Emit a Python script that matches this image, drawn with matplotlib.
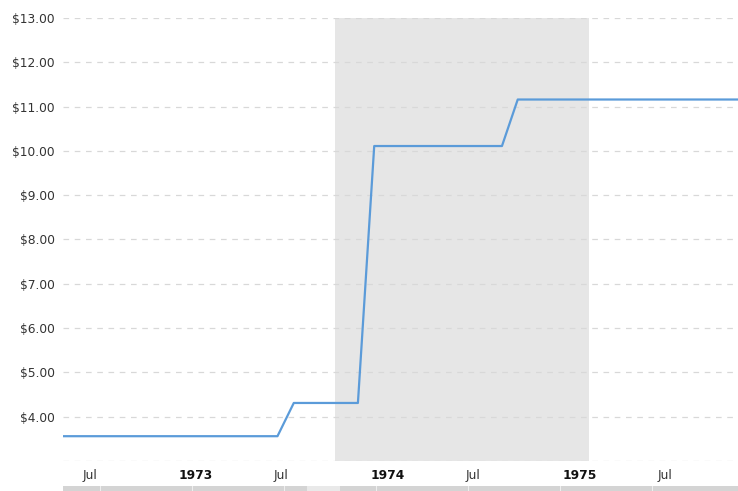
import matplotlib
matplotlib.use("Agg")
import matplotlib.pyplot as plt
import matplotlib.dates as mdates
import matplotlib.transforms as mtransforms
from matplotlib.patches import Rectangle
import pandas as pd
import datetime as dt

# Monthly crude oil price (USD / barrel)
months = pd.date_range("1972-05-01", "1975-12-01", freq="MS")
prices_1972 = [3.56] * 8                      # May - Dec 1972
prices_1973 = [3.56] * 7 + [4.31] * 5          # Jan - Dec 1973
prices_1974 = [10.11] * 9 + [11.16] * 3        # Jan - Dec 1974
prices_1975 = [11.16] * 12                     # Jan - Dec 1975
prices = prices_1972 + prices_1973 + prices_1974 + prices_1975

recession_start = dt.datetime(1973, 10, 19)
recession_end = dt.datetime(1975, 2, 14)

y_ticks = [4, 5, 6, 7, 8, 9, 10, 11, 12, 13]
x_tick_dates = [dt.datetime(1972, 7, 1), dt.datetime(1973, 1, 1), dt.datetime(1973, 7, 1),
                dt.datetime(1974, 1, 1), dt.datetime(1974, 7, 1), dt.datetime(1975, 1, 1),
                dt.datetime(1975, 7, 1)]
x_tick_labels = ["Jul", "1973", "Jul", "1974", "Jul", "1975", "Jul"]

W, H = 738, 491
fig = plt.figure(figsize=(W / 100, H / 100), dpi=100)
ax = fig.add_axes([63 / W, (H - 461) / H, (738 - 63) / W, (461 - 18) / H])

ax.axvspan(recession_start, recession_end, color="#e6e6e6", zorder=0, lw=0)

for y in [3] + y_ticks:
    ax.axhline(y, color="#d8d8d8", lw=0.9, ls=(0, (4.5, 4.5)), zorder=1)

ax.plot(months, prices, color="#5b9bd9", lw=1.6, zorder=3)

ax.set_xlim(dt.datetime(1972, 5, 19), dt.datetime(1975, 11, 24))
ax.set_ylim(3, 13)

ax.set_yticks(y_ticks)
ax.set_yticklabels([f"${v:.2f}" for v in y_ticks])
ax.set_xticks(x_tick_dates)
ax.set_xticklabels(x_tick_labels)
ax.tick_params(axis="both", length=0, colors="#333333", labelsize=8.8)
ax.tick_params(axis="y", pad=6)
ax.tick_params(axis="x", pad=6)
offset = mtransforms.ScaledTranslation(-3.5 / 100, 0, fig.dpi_scale_trans)
for lbl in ax.get_xticklabels():
    lbl.set_horizontalalignment("left")
    lbl.set_transform(lbl.get_transform() + offset)
    if lbl.get_text() != "Jul":
        lbl.set_fontweight("bold")
        lbl.set_color("#111111")

for s in ax.spines.values():
    s.set_visible(False)

# navigator strip at bottom
fig.patches.append(Rectangle((63 / W, 0), (738 - 63) / W, 5 / H, transform=fig.transFigure,
                             facecolor="#d4d4d4", edgecolor="none"))
fig.patches.append(Rectangle((307 / W, 0), 33 / W, 5 / H, transform=fig.transFigure,
                             facecolor="#e9e9e9", edgecolor="none"))
for xp in [100, 192, 284, 376, 468, 560, 652]:
    fig.patches.append(Rectangle((xp / W, 0), 1 / W, 5 / H, transform=fig.transFigure,
                                 facecolor="#eeeeee", edgecolor="none"))

fig.savefig("out.png", dpi=100)
